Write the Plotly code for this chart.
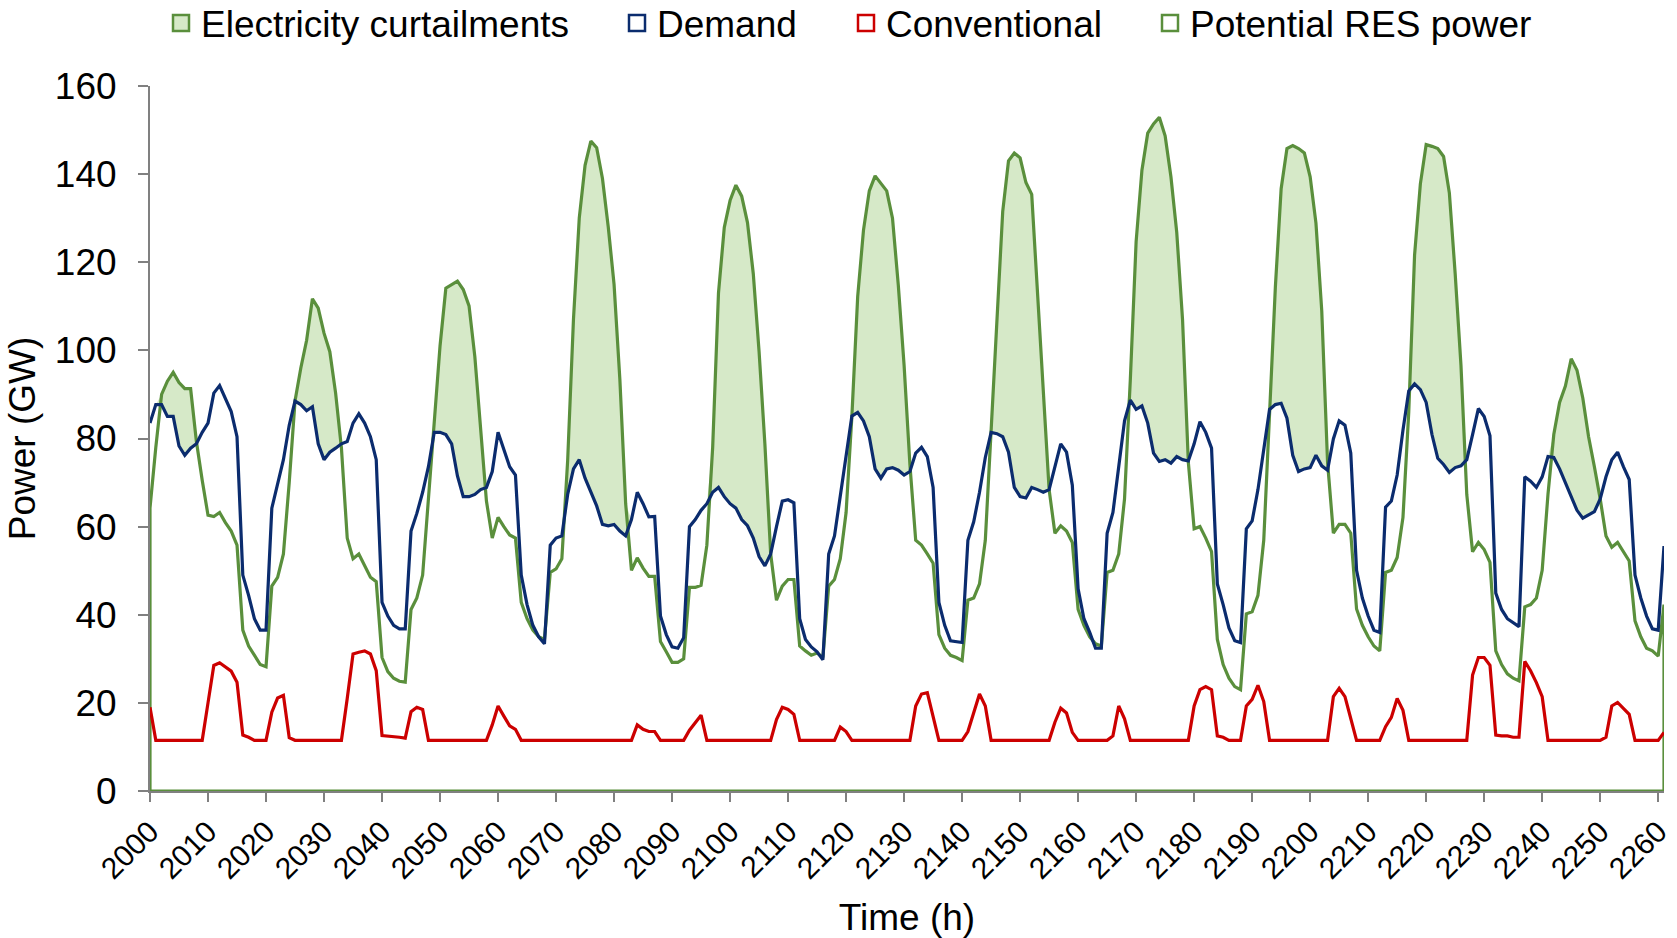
import numpy as np
import plotly.graph_objects as go

hours = list(range(2000, 2262))

demand = [
    83.5, 87.7, 87.7, 85.0, 85.0, 78.3, 76.2, 77.8, 78.8, 81.4,
    83.5, 90.3, 92.0, 89.2, 86.1, 80.4, 49.0, 44.4, 39.1, 36.5,
    36.5, 64.2, 69.4, 75.2, 83.0, 88.5, 87.7, 86.3, 87.2, 78.8,
    75.2, 76.9, 77.8, 78.8, 79.3, 83.5, 85.6, 83.5, 80.4, 75.2,
    42.8, 39.7, 37.6, 36.8, 36.8, 59.0, 63.0, 67.8, 73.6, 81.4,
    81.4, 80.9, 78.8, 71.5, 66.8, 66.8, 67.3, 68.4, 68.9, 72.5,
    81.4, 77.2, 73.6, 71.7, 49.0, 42.3, 37.6, 35.0, 33.4, 55.8,
    57.4, 57.9, 67.3, 73.1, 75.2, 71.0, 67.8, 64.7, 60.5, 60.2,
    60.5, 59.0, 57.9, 61.6, 67.8, 65.2, 62.2, 62.3, 39.7, 35.5,
    32.7, 32.4, 34.8, 60.0, 61.6, 63.7, 65.2, 67.8, 68.9, 66.8,
    65.2, 64.2, 61.6, 60.2, 57.4, 53.2, 51.1, 53.8, 60.0, 65.8,
    66.1, 65.4, 39.1, 34.4, 32.7, 31.6, 29.8, 53.8, 57.9, 66.8,
    75.2, 85.1, 85.9, 84.0, 80.4, 73.1, 71.0, 73.1, 73.4, 72.8,
    71.7, 72.5, 76.7, 78.0, 75.9, 68.9, 42.8, 37.6, 34.1, 33.9,
    33.7, 56.9, 61.1, 67.8, 75.7, 81.4, 81.1, 80.4, 76.9, 68.9,
    66.8, 66.5, 68.9, 68.4, 67.8, 68.4, 73.6, 78.8, 76.9, 69.4,
    45.9, 39.1, 36.0, 32.4, 32.4, 58.5, 63.2, 73.6, 84.0, 88.7,
    86.6, 87.4, 83.5, 76.7, 74.8, 75.2, 74.4, 75.9, 75.2, 74.9,
    78.8, 83.8, 81.4, 77.8, 47.0, 42.3, 37.0, 34.1, 33.7, 59.5,
    61.3, 68.4, 77.8, 86.6, 87.7, 88.0, 84.6, 76.2, 72.5, 73.1,
    73.4, 76.2, 73.8, 72.8, 79.9, 84.0, 83.0, 76.7, 50.1, 43.8,
    39.7, 36.5, 36.0, 64.4, 65.8, 71.7, 81.9, 90.8, 92.4, 91.1,
    88.2, 80.9, 75.5, 74.1, 72.3, 73.4, 73.8, 75.2, 80.9, 86.8,
    85.0, 80.6, 44.9, 41.2, 39.1, 38.1, 37.3, 71.3, 70.3, 68.9,
    71.3, 75.9, 75.7, 73.1, 70.0, 66.8, 63.7, 61.9, 62.6, 63.4,
    66.3, 71.3, 75.2, 76.9, 73.6, 70.7, 49.0, 43.8, 39.7, 36.8,
    36.5, 55.6,
]

res_potential = [
    64.2, 78.0, 90.0, 93.0, 95.0, 92.7, 91.3, 91.3, 79.3, 70.5,
    62.6, 62.3, 63.2, 60.9, 59.0, 55.8, 36.5, 32.9, 30.8, 28.7,
    28.2, 46.5, 48.5, 53.8, 70.0, 88.5, 96.0, 102.3, 111.7, 109.6,
    103.9, 99.7, 90.3, 77.8, 57.4, 52.7, 53.8, 51.1, 48.5, 47.5,
    30.3, 27.1, 25.6, 24.9, 24.7, 41.2, 43.8, 49.0, 67.0, 85.0,
    101.0, 114.1, 114.8, 115.7, 113.8, 110.1, 98.6, 83.0, 65.8, 57.4,
    62.1, 60.0, 58.1, 57.4, 42.8, 39.1, 36.5, 35.0, 34.4, 49.6,
    50.4, 52.7, 75.0, 107.0, 130.0, 142.0, 147.5, 146.0, 139.0, 128.0,
    115.0, 93.4, 65.2, 50.1, 52.9, 50.6, 48.7, 48.7, 33.9, 31.6,
    29.2, 29.2, 30.0, 46.2, 46.2, 46.7, 55.8, 78.0, 113.0, 127.9,
    134.0, 137.5, 135.0, 129.0, 117.4, 99.7, 78.8, 53.8, 43.3, 46.5,
    48.0, 48.0, 32.9, 31.8, 30.8, 31.3, 30.3, 46.5, 48.0, 52.7,
    63.2, 85.1, 112.2, 127.3, 136.2, 139.6, 137.8, 136.2, 130.0, 114.8,
    96.6, 74.1, 56.9, 55.8, 53.8, 51.7, 35.5, 32.4, 30.8, 30.3,
    29.6, 43.3, 43.8, 47.0, 56.9, 81.9, 109.0, 131.5, 143.0, 144.8,
    143.7, 138.1, 135.4, 113.3, 88.2, 68.4, 58.5, 60.2, 59.0, 56.4,
    41.2, 37.6, 35.0, 33.4, 32.9, 49.6, 50.1, 53.8, 66.3, 93.4,
    124.7, 140.9, 149.3, 151.4, 152.9, 148.7, 139.4, 126.8, 107.0, 74.6,
    59.5, 60.0, 57.4, 54.3, 34.4, 28.7, 25.6, 23.7, 23.0, 40.2,
    40.7, 44.4, 56.9, 86.1, 114.3, 136.7, 145.8, 146.5, 145.8, 144.8,
    139.4, 128.9, 109.0, 74.6, 58.5, 60.5, 60.5, 58.5, 41.3, 37.6,
    35.0, 32.9, 31.8, 49.6, 50.1, 53.0, 62.1, 86.1, 121.6, 137.8,
    146.7, 146.3, 145.8, 144.0, 135.7, 117.4, 96.6, 67.3, 54.3, 56.4,
    54.8, 51.9, 31.8, 28.7, 26.6, 25.6, 25.0, 41.8, 42.3, 43.8,
    50.1, 67.3, 80.9, 88.2, 91.9, 98.1, 95.5, 89.2, 80.4, 73.6,
    66.3, 57.9, 55.3, 56.4, 54.3, 52.2, 38.6, 35.0, 32.4, 31.8,
    30.6, 42.3,
]

conventional = [
    19.0, 11.5, 11.5, 11.5, 11.5, 11.5, 11.5, 11.5, 11.5, 11.5,
    20.0, 28.5, 29.1, 28.2, 27.2, 24.7, 12.7, 12.2, 11.5, 11.5,
    11.5, 17.9, 21.1, 21.7, 12.1, 11.5, 11.5, 11.5, 11.5, 11.5,
    11.5, 11.5, 11.5, 11.5, 21.0, 31.1, 31.5, 31.8, 31.1, 27.3,
    12.6, 12.5, 12.3, 12.2, 12.0, 18.0, 19.0, 18.5, 11.5, 11.5,
    11.5, 11.5, 11.5, 11.5, 11.5, 11.5, 11.5, 11.5, 11.5, 15.0,
    19.3, 17.0, 14.8, 14.0, 11.5, 11.5, 11.5, 11.5, 11.5, 11.5,
    11.5, 11.5, 11.5, 11.5, 11.5, 11.5, 11.5, 11.5, 11.5, 11.5,
    11.5, 11.5, 11.5, 11.5, 15.0, 14.0, 13.5, 13.5, 11.5, 11.5,
    11.5, 11.5, 11.5, 13.8, 15.6, 17.2, 11.5, 11.5, 11.5, 11.5,
    11.5, 11.5, 11.5, 11.5, 11.5, 11.5, 11.5, 11.5, 16.2, 19.0,
    18.5, 17.4, 11.5, 11.5, 11.5, 11.5, 11.5, 11.5, 11.5, 14.5,
    13.5, 11.5, 11.5, 11.5, 11.5, 11.5, 11.5, 11.5, 11.5, 11.5,
    11.5, 11.5, 19.3, 22.0, 22.3, 17.2, 11.5, 11.5, 11.5, 11.5,
    11.5, 13.5, 17.5, 22.0, 19.3, 11.5, 11.5, 11.5, 11.5, 11.5,
    11.5, 11.5, 11.5, 11.5, 11.5, 11.5, 15.6, 18.8, 17.7, 13.3,
    11.5, 11.5, 11.5, 11.5, 11.5, 11.5, 12.5, 19.3, 16.4, 11.5,
    11.5, 11.5, 11.5, 11.5, 11.5, 11.5, 11.5, 11.5, 11.5, 11.5,
    19.3, 23.0, 23.7, 23.0, 12.5, 12.2, 11.5, 11.5, 11.5, 19.3,
    20.8, 24.0, 20.3, 11.5, 11.5, 11.5, 11.5, 11.5, 11.5, 11.5,
    11.5, 11.5, 11.5, 11.5, 21.4, 23.3, 21.4, 16.7, 11.5, 11.5,
    11.5, 11.5, 11.5, 14.6, 16.7, 21.0, 18.3, 11.5, 11.5, 11.5,
    11.5, 11.5, 11.5, 11.5, 11.5, 11.5, 11.5, 11.5, 26.3, 30.3,
    30.3, 28.5, 12.7, 12.5, 12.5, 12.2, 12.2, 29.4, 27.3, 24.6,
    21.4, 11.5, 11.5, 11.5, 11.5, 11.5, 11.5, 11.5, 11.5, 11.5,
    11.5, 12.2, 19.3, 20.1, 18.8, 17.4, 11.5, 11.5, 11.5, 11.5,
    11.5, 13.3,
]

x_ticks = list(range(2000, 2261, 10))
y_ticks = list(range(0, 161, 20))

assert len(demand) == len(hours) == len(res_potential) == len(conventional)

NAVY = "#0B2C6E"
RED = "#CC0000"
GREEN = "#5A8F3C"
FILL = "#D6E9C8"
FONT = "Liberation Sans, Arial, Helvetica, sans-serif"
W, H = 1677, 938

dem = np.array(demand)
res = np.array(res_potential)
curtail_top = np.maximum(res, dem)

fig = go.Figure()

fig.add_trace(go.Scatter(x=hours, y=dem, mode="lines", line=dict(width=0, color=NAVY),
                         showlegend=False, hoverinfo="skip"))
fig.add_trace(go.Scatter(x=hours, y=curtail_top, mode="lines", line=dict(width=0, color=FILL),
                         fill="tonexty", fillcolor=FILL, showlegend=False,
                         name="Electricity curtailments"))

res_x = [hours[0]] + hours + [hours[-1], hours[0]]
res_y = [0] + res_potential + [0, 0]
fig.add_trace(go.Scatter(x=res_x, y=res_y, mode="lines", line=dict(width=3.2, color=GREEN),
                         showlegend=False, name="Potential RES power"))
fig.add_trace(go.Scatter(x=hours, y=demand, mode="lines", line=dict(width=3.2, color=NAVY),
                         showlegend=False, name="Demand"))
fig.add_trace(go.Scatter(x=hours, y=conventional, mode="lines", line=dict(width=3.2, color=RED),
                         showlegend=False, name="Conventional"))

# legend entries (square swatches), each in its own legend placed like the original
legend_items = [
    ("Electricity curtailments", FILL, GREEN, 161),
    ("Demand", "white", NAVY, 617),
    ("Conventional", "white", RED, 846),
    ("Potential RES power", "white", GREEN, 1150),
]
legend_layout = {}
for i, (name, fc, lc, px) in enumerate(legend_items):
    key = "legend" if i == 0 else f"legend{i + 1}"
    fig.add_trace(go.Scatter(x=[None], y=[None], mode="markers", name=name, legend=key,
                             marker=dict(symbol="square", size=16, color=fc,
                                         line=dict(color=lc, width=2.5))))
    legend_layout[key] = dict(x=px / W, xref="container", xanchor="left",
                              y=1 - 23.5 / H, yref="container", yanchor="middle",
                              orientation="h", font=dict(size=37), itemwidth=30,
                              bgcolor="rgba(0,0,0,0)", borderwidth=0)

fig.update_layout(
    width=W, height=H,
    margin=dict(l=150, r=13, t=86, b=147, autoexpand=False),
    paper_bgcolor="white", plot_bgcolor="white",
    font=dict(family=FONT, size=37, color="black"),
    showlegend=True,
    xaxis=dict(range=[2000, 2261], tickmode="array", tickvals=x_ticks,
               ticktext=[str(t) for t in x_ticks], tickangle=-45,
               tickfont=dict(size=30), ticks="outside", ticklen=9, tickcolor="#808080",
               tickwidth=2, showline=True, linecolor="#808080", linewidth=2,
               showgrid=False, zeroline=False,
               title=dict(text="Time (h)", font=dict(size=37), standoff=22)),
    yaxis=dict(range=[0, 160], tickmode="array", tickvals=y_ticks,
               ticks="outside", ticklen=10, tickcolor="#808080", tickwidth=2,
               showline=True, linecolor="#808080", linewidth=2,
               showgrid=False, zeroline=False, tickfont=dict(size=37),
               ticklabelstandoff=14,
               title=dict(text="Power (GW)", font=dict(size=37), standoff=8)),
    **legend_layout,
)

fig.write_html("out.html")
